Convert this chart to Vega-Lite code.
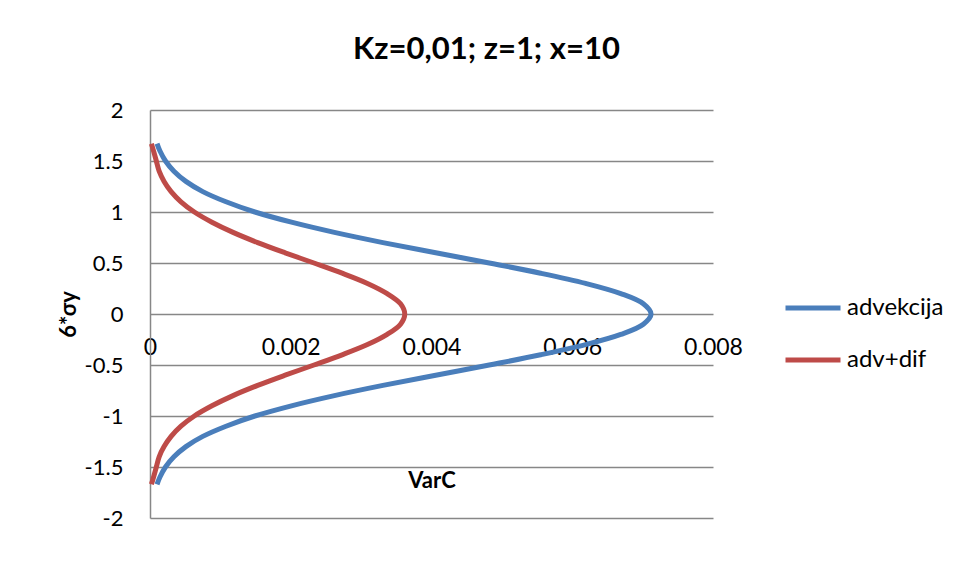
{
  "$schema": "https://vega.github.io/schema/vega-lite/v6.json",
  "width": 563,
  "height": 408,
  "autosize": {"type": "none"},
  "padding": {"left": 150, "top": 110, "right": 244, "bottom": 63},
  "background": "white",
  "title": {"text": "Kz=0,01; z=1; x=10", "fontSize": 31, "font": "Lato", "fontWeight": "bold", "color": "black", "anchor": "middle", "dx": 55, "offset": 33},
  "data": {"values": [
    {"s": "advekcija", "y": -1.67, "c": 0.0001},
    {"s": "advekcija", "y": -1.6, "c": 0.00014},
    {"s": "advekcija", "y": -1.5, "c": 0.00022},
    {"s": "advekcija", "y": -1.4, "c": 0.00034},
    {"s": "advekcija", "y": -1.3, "c": 0.00051},
    {"s": "advekcija", "y": -1.2, "c": 0.00075},
    {"s": "advekcija", "y": -1.1, "c": 0.00108},
    {"s": "advekcija", "y": -1.0, "c": 0.00149},
    {"s": "advekcija", "y": -0.9, "c": 0.00201},
    {"s": "advekcija", "y": -0.8, "c": 0.00262},
    {"s": "advekcija", "y": -0.7, "c": 0.00331},
    {"s": "advekcija", "y": -0.6, "c": 0.00406},
    {"s": "advekcija", "y": -0.5, "c": 0.00482},
    {"s": "advekcija", "y": -0.4, "c": 0.00555},
    {"s": "advekcija", "y": -0.3, "c": 0.00619},
    {"s": "advekcija", "y": -0.2, "c": 0.00669},
    {"s": "advekcija", "y": -0.1, "c": 0.00701},
    {"s": "advekcija", "y": 0.0, "c": 0.00712},
    {"s": "advekcija", "y": 0.1, "c": 0.00701},
    {"s": "advekcija", "y": 0.2, "c": 0.00669},
    {"s": "advekcija", "y": 0.3, "c": 0.00619},
    {"s": "advekcija", "y": 0.4, "c": 0.00555},
    {"s": "advekcija", "y": 0.5, "c": 0.00482},
    {"s": "advekcija", "y": 0.6, "c": 0.00406},
    {"s": "advekcija", "y": 0.7, "c": 0.00331},
    {"s": "advekcija", "y": 0.8, "c": 0.00262},
    {"s": "advekcija", "y": 0.9, "c": 0.00201},
    {"s": "advekcija", "y": 1.0, "c": 0.00149},
    {"s": "advekcija", "y": 1.1, "c": 0.00108},
    {"s": "advekcija", "y": 1.2, "c": 0.00075},
    {"s": "advekcija", "y": 1.3, "c": 0.00051},
    {"s": "advekcija", "y": 1.4, "c": 0.00034},
    {"s": "advekcija", "y": 1.5, "c": 0.00022},
    {"s": "advekcija", "y": 1.6, "c": 0.00014},
    {"s": "advekcija", "y": 1.67, "c": 0.0001},
    {"s": "adv+dif", "y": -1.67, "c": 0.00002},
    {"s": "adv+dif", "y": -1.6, "c": 0.00005},
    {"s": "adv+dif", "y": -1.5, "c": 0.00009},
    {"s": "adv+dif", "y": -1.4, "c": 0.00013},
    {"s": "adv+dif", "y": -1.3, "c": 0.0002},
    {"s": "adv+dif", "y": -1.2, "c": 0.0003},
    {"s": "adv+dif", "y": -1.1, "c": 0.00044},
    {"s": "adv+dif", "y": -1.0, "c": 0.00063},
    {"s": "adv+dif", "y": -0.9, "c": 0.00088},
    {"s": "adv+dif", "y": -0.8, "c": 0.00118},
    {"s": "adv+dif", "y": -0.7, "c": 0.00153},
    {"s": "adv+dif", "y": -0.6, "c": 0.00192},
    {"s": "adv+dif", "y": -0.5, "c": 0.00233},
    {"s": "adv+dif", "y": -0.4, "c": 0.00273},
    {"s": "adv+dif", "y": -0.3, "c": 0.00309},
    {"s": "adv+dif", "y": -0.2, "c": 0.00337},
    {"s": "adv+dif", "y": -0.1, "c": 0.00356},
    {"s": "adv+dif", "y": 0.0, "c": 0.00362},
    {"s": "adv+dif", "y": 0.1, "c": 0.00356},
    {"s": "adv+dif", "y": 0.2, "c": 0.00337},
    {"s": "adv+dif", "y": 0.3, "c": 0.00309},
    {"s": "adv+dif", "y": 0.4, "c": 0.00273},
    {"s": "adv+dif", "y": 0.5, "c": 0.00233},
    {"s": "adv+dif", "y": 0.6, "c": 0.00192},
    {"s": "adv+dif", "y": 0.7, "c": 0.00153},
    {"s": "adv+dif", "y": 0.8, "c": 0.00118},
    {"s": "adv+dif", "y": 0.9, "c": 0.00088},
    {"s": "adv+dif", "y": 1.0, "c": 0.00063},
    {"s": "adv+dif", "y": 1.1, "c": 0.00044},
    {"s": "adv+dif", "y": 1.2, "c": 0.0003},
    {"s": "adv+dif", "y": 1.3, "c": 0.0002},
    {"s": "adv+dif", "y": 1.4, "c": 0.00013},
    {"s": "adv+dif", "y": 1.5, "c": 0.00009},
    {"s": "adv+dif", "y": 1.6, "c": 0.00005},
    {"s": "adv+dif", "y": 1.67, "c": 0.00002}
  ]},
  "mark": {"type": "line", "strokeWidth": 5, "interpolate": "catmull-rom", "clip": false},
  "encoding": {
    "x": {
      "field": "c", "type": "quantitative",
      "scale": {"domain": [0, 0.008], "nice": false, "zero": false},
      "axis": {
        "values": [0, 0.002, 0.004, 0.006, 0.008],
        "offset": -204,
        "grid": false, "ticks": false, "domain": false,
        "labelExpr": "datum.value == 0 ? '0' : format(datum.value, '.3f')",
        "labelFontSize": 23,
        "labelPadding": 22,
        "labelFlush": false,
        "title": "VarC",
        "titleY": 156
      }
    },
    "y": {
      "field": "y", "type": "quantitative",
      "scale": {"domain": [-2, 2], "nice": false},
      "axis": {
        "values": [-2, -1.5, -1, -0.5, 0, 0.5, 1, 1.5, 2],
        "grid": true, "ticks": false,
        "labelExpr": "datum.value + ''",
        "labelFontSize": 22,
        "labelPadding": 27,
        "title": "6*σy",
        "titleX": -70,
        "titleY": 204
      }
    },
    "color": {
      "field": "s", "type": "nominal",
      "scale": {"domain": ["advekcija", "adv+dif"], "range": ["#4a7ebb", "#be4b48"]},
      "legend": {
        "title": null, "orient": "none", "legendX": 633, "legendY": 168,
        "symbolType": "stroke", "symbolSize": 3025, "symbolStrokeWidth": 5,
        "labelFontSize": 24, "labelFont": "Lato", "labelColor": "black", "labelOffset": 4,
        "rowPadding": 10
      }
    },
    "order": {"field": "y", "type": "quantitative"}
  },
  "config": {
    "view": {"stroke": null},
    "axis": {
      "labelFont": "Lato", "labelColor": "black",
      "titleFont": "Lato", "titleFontSize": 22, "titleFontWeight": "bold", "titleColor": "black",
      "gridColor": "#878787", "gridWidth": 1.5, "gridOpacity": 1,
      "domainColor": "#878787", "domainWidth": 1.5
    }
  }
}
